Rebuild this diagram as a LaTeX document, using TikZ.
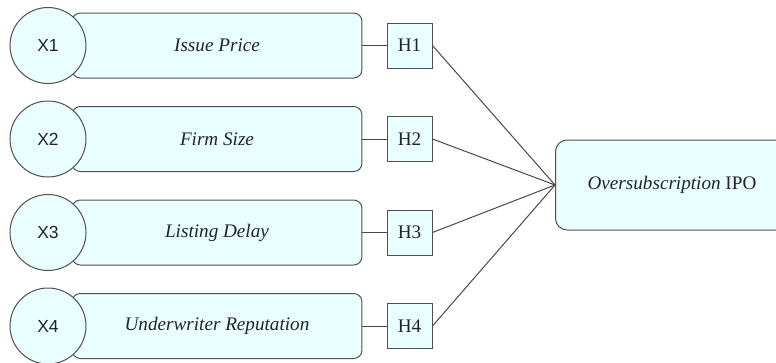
\documentclass[tikz,border=0pt]{standalone}
\usepackage{fontspec}
\setmainfont{Liberation Serif}
\setsansfont{Liberation Sans}
\usetikzlibrary{positioning}
\definecolor{boxfill}{HTML}{E9FEFF}
\definecolor{boxline}{HTML}{505050}
\definecolor{labeltext}{HTML}{222230}
\tikzset{
  factor/.style={draw=boxline,fill=boxfill,rounded corners=5pt,line width=0.6pt,
    minimum width=174pt,minimum height=39pt,font=\fontsize{11.5}{13}\selectfont\itshape},
  varcircle/.style={circle,draw=boxline,fill=boxfill,line width=0.6pt,
    minimum size=45.6pt,font=\fontsize{10.5}{12}\selectfont\sffamily},
  hyp/.style={draw=boxline,fill=boxfill,line width=0.6pt,minimum size=27pt,inner sep=0pt,
    font=\fontsize{11.5}{13}\selectfont},
  outcome/.style={draw=boxline,fill=boxfill,rounded corners=7pt,line width=0.6pt,
    minimum width=170pt,minimum height=54pt,anchor=west},
  link/.style={draw=boxline!90!black,line width=0.6pt}
}
\begin{document}
\begin{tikzpicture}[x=0.6pt,y=-0.6pt,text=labeltext]
      \useasboundingbox (0,0) rectangle (776,363);
      % independent variables
      \node[factor] (f1) at (217,45.5) {Issue Price};
      \node[factor] (f2) at (217,139) {Firm Size};
      \node[factor] (f3) at (217,232.5) {Listing Delay};
      \node[factor] (f4) at (217,326) {Underwriter Reputation};
      \node[varcircle] (x1) at (48,45.5) {X1};
      \node[varcircle] (x2) at (48,139) {X2};
      \node[varcircle] (x3) at (48,232.5) {X3};
      \node[varcircle] (x4) at (48,326) {X4};
      % hypotheses
      \node[hyp] (h1) at (409.5,45.5) {H1};
      \node[hyp] (h2) at (409.5,139) {H2};
      \node[hyp] (h3) at (409.5,232.5) {H3};
      \node[hyp] (h4) at (409.5,326) {H4};
      % dependent variable
      \node[outcome] (ipo) at (555,185) {};
      \node[font=\fontsize{11.5}{13}\selectfont] at (672,185) {\textit{Oversubscription} IPO};
      \draw[link] (f1) -- (h1);
      \draw[link] (f2) -- (h2);
      \draw[link] (f3) -- (h3);
      \draw[link] (f4) -- (h4);
      \draw[link] (h1.east) -- (ipo.west);
      \draw[link] (h2.east) -- (ipo.west);
      \draw[link] (h3.east) -- (ipo.west);
      \draw[link] (h4.east) -- (ipo.west);
\end{tikzpicture}
\end{document}
